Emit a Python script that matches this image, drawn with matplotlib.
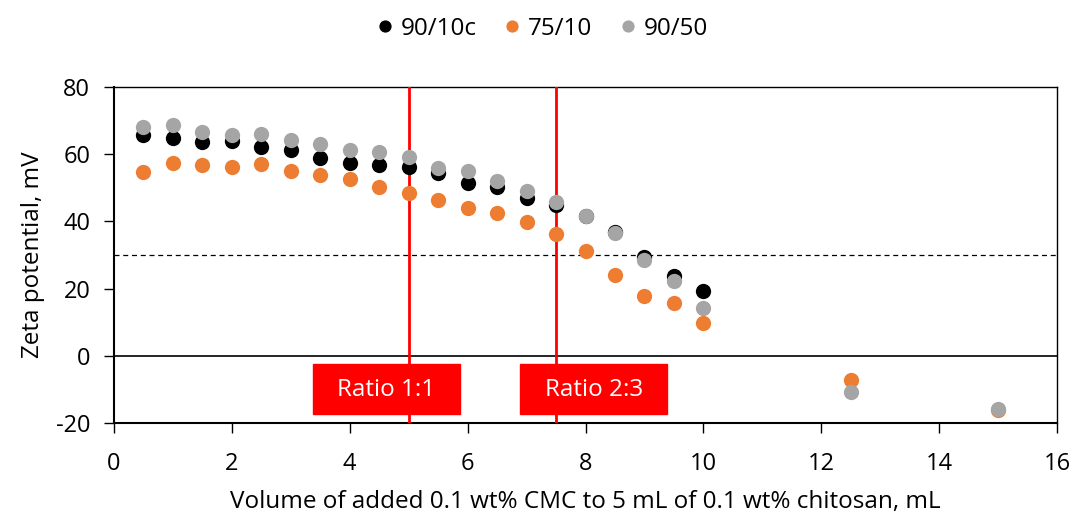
import matplotlib.pyplot as plt
import numpy as np

plt.rcParams['font.family'] = ['Open Sans', 'DejaVu Sans']
plt.rcParams['axes.unicode_minus'] = False

# volume of added CMC, mL
vol = [0.5, 1.0, 1.5, 2.0, 2.5, 3.0, 3.5, 4.0, 4.5, 5.0,
       5.5, 6.0, 6.5, 7.0, 7.5, 8.0, 8.5, 9.0, 9.5, 10.0, 12.5, 15.0]

zeta_90_10c = [65.8, 64.7, 63.7, 63.8, 62.2, 61.2, 59.0, 57.5, 56.7, 56.2,
               54.3, 51.3, 50.1, 47.1, 44.9, 41.5, 36.8, 29.5, 23.8, 19.3,
               np.nan, np.nan]
zeta_75_10 = [54.6, 57.3, 56.8, 56.2, 57.1, 54.9, 53.8, 52.7, 50.1, 48.6,
              46.3, 44.1, 42.4, 39.7, 36.2, 31.2, 24.1, 17.9, 15.7, 9.9,
              -7.1, -16.0]
zeta_90_50 = [68.2, 68.6, 66.6, 65.7, 65.9, 64.3, 63.0, 61.2, 60.6, 59.1,
              56.0, 54.9, 52.1, 49.1, 45.9, 41.7, 36.7, 28.4, 22.3, 14.1,
              -10.9, -15.7]

ratio_lines = [5.0, 7.5]
ratio_labels = ['Ratio 1:1', 'Ratio 2:3']
stability_limit = 30

fig = plt.figure(figsize=(10.7, 5.18), dpi=100)
ax = fig.add_axes([0.1065, 0.1834, 0.8814, 0.6486])

ax.plot(vol, zeta_90_10c, 'o', color='black', ms=11, mec='none', label='90/10c', zorder=4)
ax.plot(vol, zeta_75_10, 'o', color='#ED7D31', ms=11, mec='none', label='75/10', zorder=5)
ax.plot(vol, zeta_90_50, 'o', color='#A5A5A5', ms=11, mec='none', label='90/50', zorder=6)

ax.axhline(stability_limit, color='black', ls=(0, (4, 3)), lw=0.9, zorder=2)
ax.axhline(0, color='black', lw=1.2, zorder=2)
for xv in ratio_lines:
    ax.axvline(xv, color='#FF0000', lw=2, zorder=3)

# red label boxes below the zero line (x centres, in mL)
box_centres = [4.62, 8.14]
for cx, lab in zip(box_centres, ratio_labels):
    ax.add_patch(plt.Rectangle((cx - 1.25, -17.3), 2.5, 14.9, color='#FF0000', zorder=7))
    ax.text(cx, -10.2, lab, color='white', fontsize=17.5, ha='center', va='center', zorder=8)

ax.set_xlim(0, 16)
ax.set_ylim(-20, 80)
ax.set_xticks(range(0, 17, 2))
ax.set_yticks(range(-20, 81, 20))
ax.tick_params(labelsize=17, direction='out', length=7, width=1.0)
ax.tick_params(axis='x', pad=14)
ax.tick_params(axis='y', pad=10)
for s in ['left', 'bottom']:
    ax.spines[s].set_linewidth(1.5)
for s in ['top', 'right']:
    ax.spines[s].set_linewidth(1.0)

ax.set_xlabel('Volume of added 0.1 wt% CMC to 5 mL of 0.1 wt% chitosan, mL', fontsize=17.5, labelpad=10)
ax.set_ylabel('Zeta potential, mV', fontsize=17.5, labelpad=8)

fig.legend(loc='upper center', bbox_to_anchor=(0.505, 1.01), ncol=3, frameon=False,
           fontsize=17.5, handlelength=1.0, handletextpad=0.15, columnspacing=0.95,
           markerscale=0.8)

plt.savefig('out.png', dpi=100)
plt.close()
